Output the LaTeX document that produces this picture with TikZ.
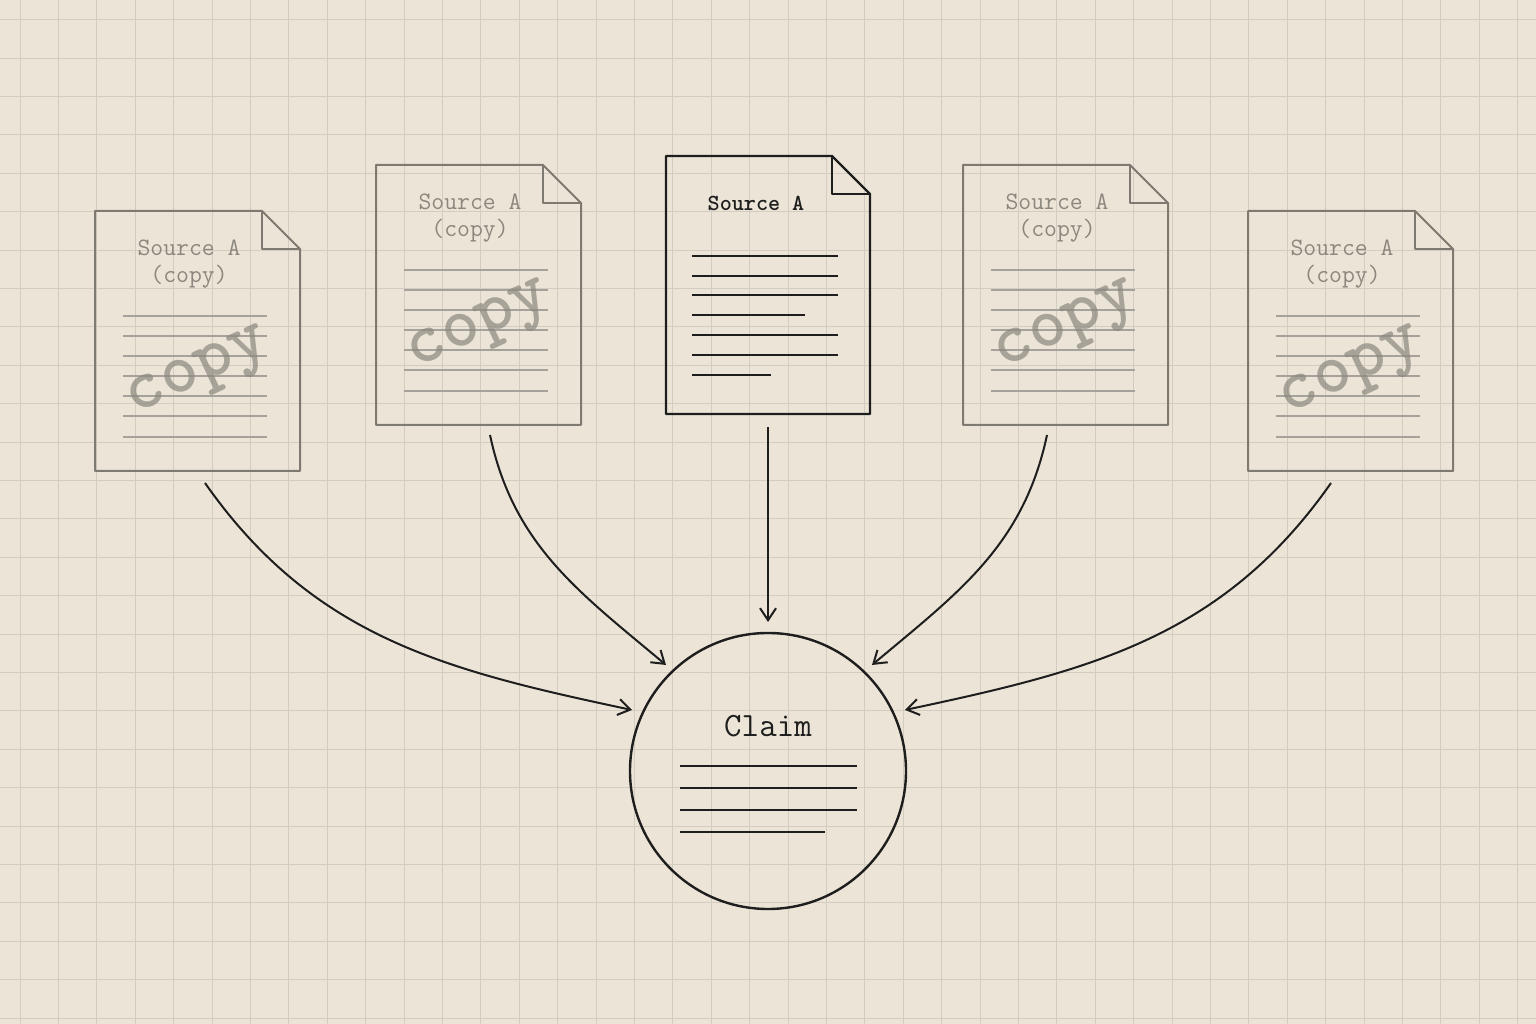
\documentclass[tikz,border=0pt]{standalone}
\usepackage{tikz}
\usetikzlibrary{positioning,arrows.meta}
\definecolor{paper}{HTML}{ECE5D7}
\definecolor{gridc}{HTML}{D2CCC1}
\definecolor{faded}{HTML}{7E7A72}
\definecolor{fadedtext}{HTML}{8C877E}
\definecolor{ink}{HTML}{1E1E1E}

\begin{document}
\begin{tikzpicture}[x=1pt, y=1pt,
  page/.style={line width=2pt, line join=round},
  txtline/.style={line width=1.8pt},
  flow/.style={ink, line width=2pt, -{Straight Barb[length=12pt, width=16pt, line width=2pt]}}]

\fill[paper] (0,0) rectangle (1536,1024);
\useasboundingbox (0,0) rectangle (1536,1024);
\foreach \g in {0,...,40}
  \draw[gridc, line width=0.8pt] (\g*38.4+20,0) -- (\g*38.4+20,1024);
\foreach \g in {0,...,27}
  \draw[gridc, line width=0.8pt] (0,\g*38.4+6) -- (1536,\g*38.4+6);

% faded copies
\foreach \x/\y in {95/553, 376/599, 963/599, 1248/553} {
  \draw[page, faded] (\x,\y) -- (\x+205,\y) -- (\x+205,\y+222) -- (\x+167,\y+260) -- (\x,\y+260) -- cycle;
  \draw[page, faded] (\x+167,\y+260) -- (\x+167,\y+222) -- (\x+205,\y+222);
  \node[fadedtext, font=\fontsize{25}{28}\selectfont\ttfamily] at (\x+94,\y+223) {Source A};
  \node[fadedtext, font=\fontsize{25}{28}\selectfont\ttfamily] at (\x+94,\y+194) {(copy)};
  \foreach \l in {155,135,115,95,75,55,34}
    \draw[txtline, faded!70] (\x+28,\y+\l) -- (\x+172,\y+\l);
  \node[fadedtext, opacity=0.7, rotate=25, font=\fontsize{72}{76}\selectfont\ttfamily\bfseries] at (\x+105,\y+96) {copy};
}

% original
\draw[page, ink, line width=2.4pt] (666,610) -- (870,610) -- (870,830) -- (832,868) -- (666,868) -- cycle;
\draw[page, ink] (832,868) -- (832,830) -- (870,830);
\node[ink, font=\fontsize{23}{26}\selectfont\ttfamily\bfseries] (src) at (756,821) {Source A};
\foreach \l/\e in {768/838, 748/838, 729/838, 709/805, 689/838, 669/838, 649/771}
  \draw[txtline, ink] (692,\l) -- (\e,\l);

% claim
\node[draw=ink, line width=2.4pt, circle, minimum size=276pt] (claim) at (768,253) {};
\node[ink, font=\fontsize{34}{38}\selectfont\ttfamily] (ctext) at (768,298) {Claim};
\foreach \l/\e in {258/857, 236/857, 214/857, 192/825}
  \draw[txtline, ink] (680,\l) -- (\e,\l);

\coordinate (s1) at (205,541); \coordinate (e1) at (632,314);
\coordinate (s2) at (490,589); \coordinate (e2) at (666,359);
\coordinate (s3) at (768,597); \coordinate (e3) at (768,402);
\coordinate (s4) at (1047,589); \coordinate (e4) at (872,359);
\coordinate (s5) at (1331,541); \coordinate (e5) at (905,314);

\draw[flow] (s1) to[out=-55, in=168] (e1);
\draw[flow] (s2) to[out=-78, in=140] (e2);
\draw[flow] (s3) -- (e3);
\draw[flow] (s4) to[out=-102, in=40] (e4);
\draw[flow] (s5) to[out=-125, in=12] (e5);

\end{tikzpicture}
\end{document}
